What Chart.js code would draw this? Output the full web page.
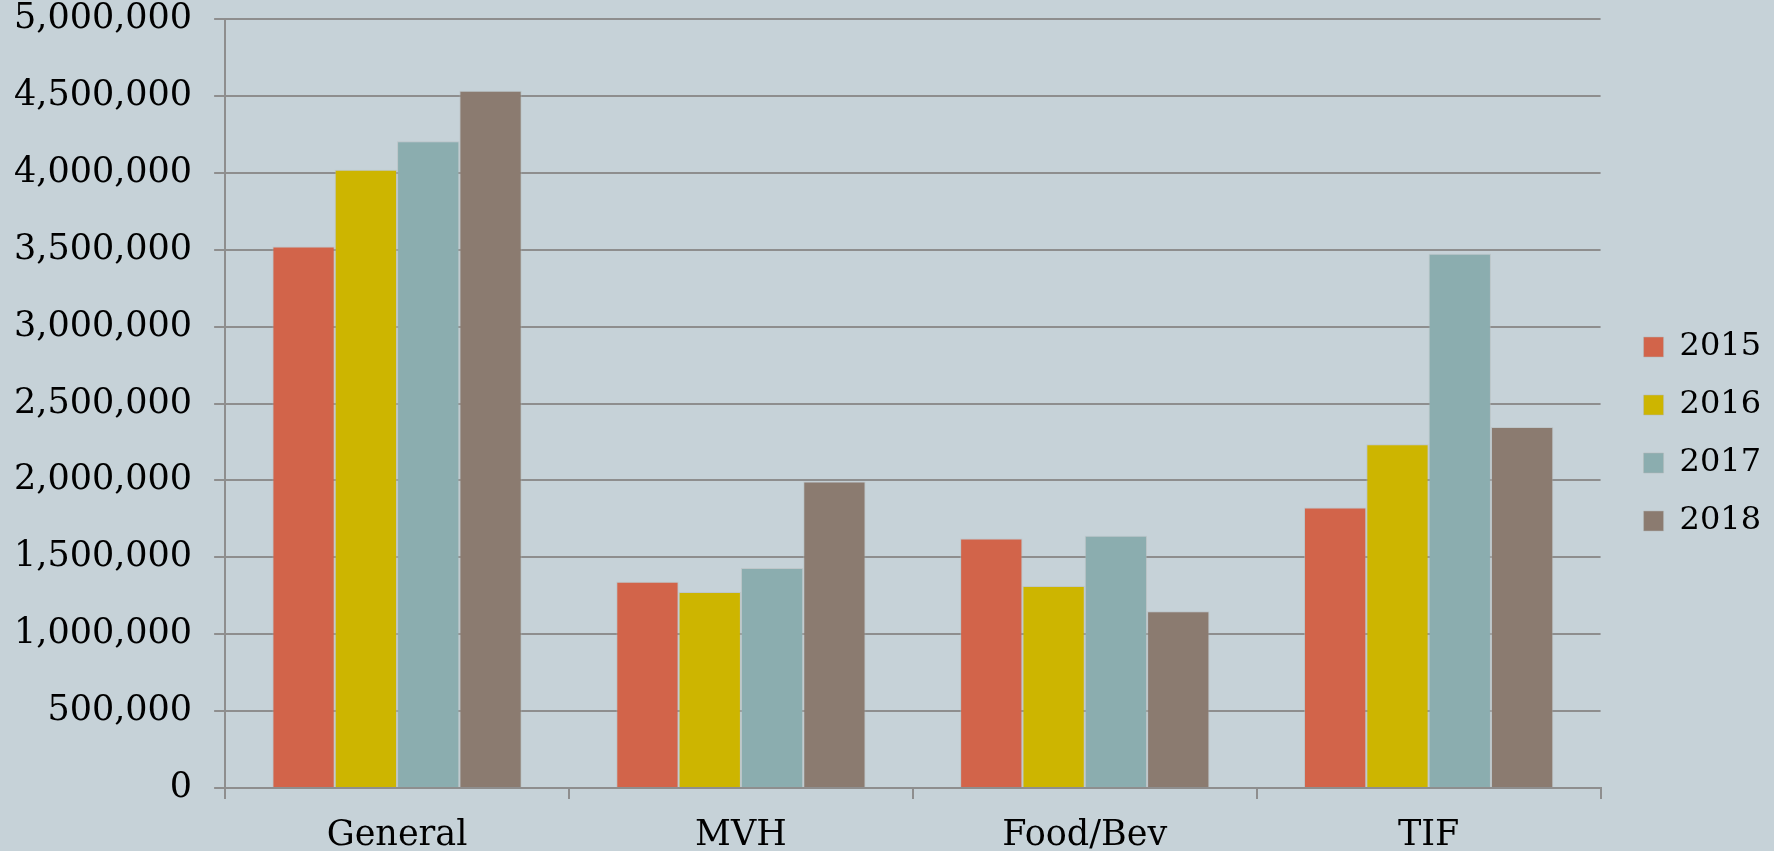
<!DOCTYPE html>
<html>
<head>
<meta charset="utf-8">
<script src="https://cdn.jsdelivr.net/npm/chart.js@4"></script>
<style>
html,body{margin:0;padding:0;background:#C6D2D8;}
#wrap{width:1774px;height:851px;}
</style>
</head>
<body>
<div id="wrap"><canvas id="c" width="1774" height="851"></canvas></div>
<script>
const categories = ["General", "MVH", "Food/Bev", "TIF"];
const seriesNames = ["2015", "2016", "2017", "2018"];
const values2015 = [3520000, 1341000, 1623000, 1823000];
const values2016 = [4020000, 1274000, 1313000, 2235000];
const values2017 = [4205000, 1430000, 1640000, 3474000];
const values2018 = [4533000, 1993000, 1150000, 2348000];
const colors = ["#D2644A", "#CDB500", "#8BADAF", "#8B7B70"];
const yTicks = [0, 500000, 1000000, 1500000, 2000000, 2500000, 3000000, 3500000, 4000000, 4500000, 5000000];

const allValues = [values2015, values2016, values2017, values2018];
const fontFam = "'DejaVu Serif', serif";

const legendShift = {
  id: 'legendShift',
  afterLayout(chart) {
    const lg = chart.legend;
    if (!lg) return;
    lg.left += 17; lg.right += 17;
  }
};

new Chart(document.getElementById('c'), {
  type: 'bar',
  data: {
    labels: categories,
    datasets: seriesNames.map((n, i) => ({
      label: n,
      data: allValues[i],
      backgroundColor: colors[i],
      borderColor: 'rgba(180,185,185,0.5)',
      borderWidth: 1,
      categoryPercentage: 0.725,
      barPercentage: 1.0
    }))
  },
  options: {
    responsive: false,
    animation: false,
    layout: { padding: { top: 0, right: 20, bottom: -17, left: -8 } },
    plugins: {
      legend: {
        position: 'right',
        labels: {
          font: { family: fontFam, size: 32 },
          color: '#000',
          boxWidth: 20,
          boxHeight: 20,
          padding: 26
        }
      },
      tooltip: { enabled: false }
    },
    scales: {
      x: {
        afterFit: (s) => { s.height -= 5; },
        grid: { display: true, drawOnChartArea: false, offset: true, tickLength: 11, color: '#8e8e8e', lineWidth: 2 },
        border: { color: '#8e8e8e', width: 2 },
        ticks: { font: { family: fontFam, size: 35 }, color: '#000', padding: 16 }
      },
      y: {
        min: 0,
        max: 5000000,
        afterBuildTicks: (axis) => { axis.ticks = yTicks.map(v => ({ value: v })); },
        afterFit: (s) => { s.paddingTop = 19; },
        grid: { color: '#8e8e8e', lineWidth: 2, tickLength: 11 },
        border: { color: '#8e8e8e', width: 2 },
        ticks: {
          font: { family: fontFam, size: 35 },
          color: '#000',
          padding: 22,
          callback: v => Number(v).toLocaleString('en-US')
        }
      }
    }
  },
  plugins: [legendShift]
});
</script>
</body>
</html>
